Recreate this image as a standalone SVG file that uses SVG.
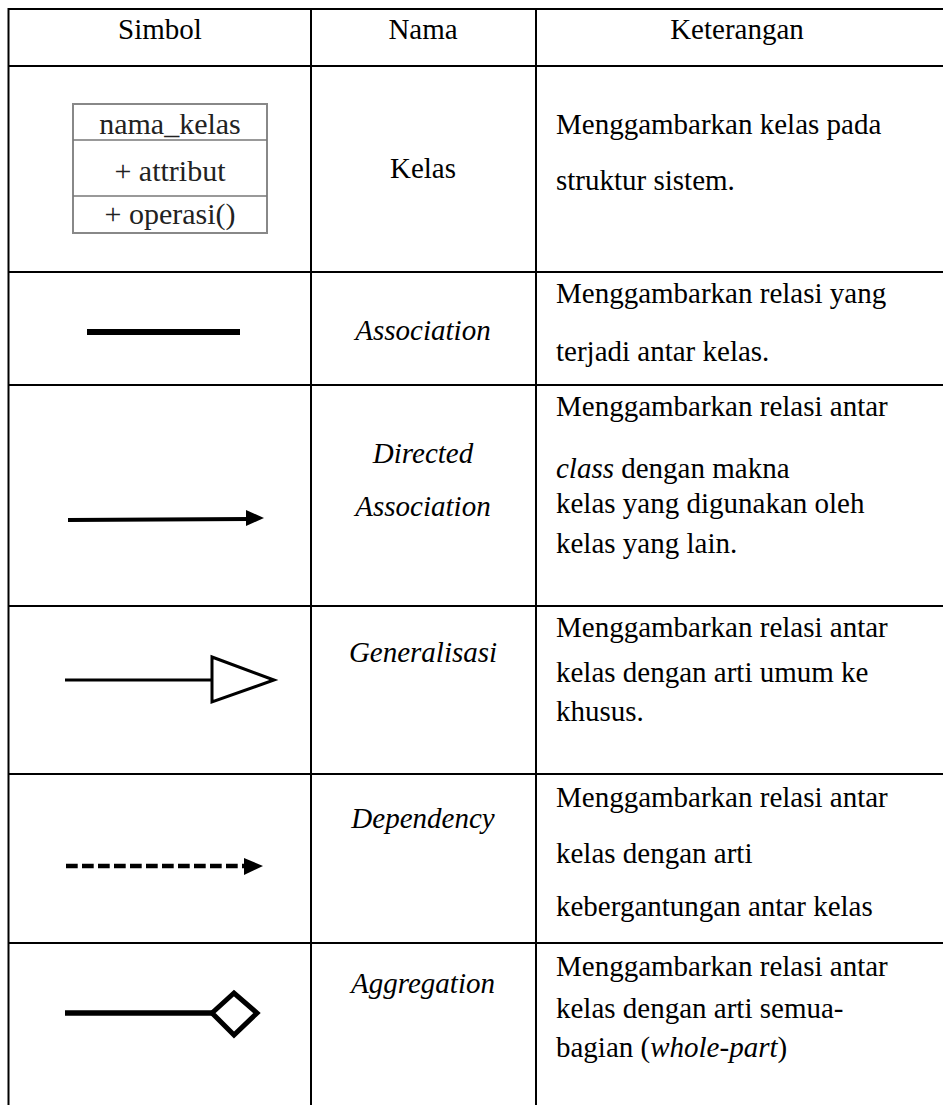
<svg xmlns="http://www.w3.org/2000/svg" width="943" height="1105" viewBox="0 0 943 1105">
<defs>
<style>
.t{font-family:"Liberation Serif","Times New Roman",serif;font-size:29px;fill:#000}
.c{text-anchor:middle}
.i{font-style:italic}
.g{stroke:#000;stroke-width:2;fill:none}
.sym{stroke:#000;fill:none}
.cb{font-family:"Liberation Serif","Times New Roman",serif;font-size:30px;fill:#222;text-anchor:middle}
</style>
</defs>
<rect width="943" height="1105" fill="#fff"/>
<g id="grid">
<line class="g" x1="8" y1="9" x2="943" y2="9"/>
<line class="g" x1="8" y1="66" x2="943" y2="66"/>
<line class="g" x1="8" y1="272" x2="943" y2="272"/>
<line class="g" x1="8" y1="385" x2="943" y2="385"/>
<line class="g" x1="8" y1="606" x2="943" y2="606"/>
<line class="g" x1="8" y1="774" x2="943" y2="774"/>
<line class="g" x1="8" y1="943" x2="943" y2="943"/>
<line class="g" x1="8.5" y1="8" x2="8.5" y2="1105" stroke-width="3"/>
<line class="g" x1="311" y1="8" x2="311" y2="1105" stroke-width="3"/>
<line class="g" x1="536" y1="8" x2="536" y2="1105"/>
</g>
<g id="header">
<text class="t c" x="160" y="39" font-size="30">Simbol</text>
<text class="t c" x="423" y="39" font-size="30">Nama</text>
<text class="t c" x="737" y="39" font-size="30">Keterangan</text>
</g>
<g id="row-kelas">
<rect x="73" y="104" width="194" height="129" fill="#fff" stroke="#888" stroke-width="2"/>
<line x1="73" y1="140" x2="267" y2="140" stroke="#777" stroke-width="1.5"/>
<line x1="73" y1="196" x2="267" y2="196" stroke="#777" stroke-width="1.5"/>
<text class="cb" x="170" y="134">nama_kelas</text>
<text class="cb" x="170" y="181">+ attribut</text>
<text class="cb" x="170" y="224">+ operasi()</text>
<text class="t c" x="423" y="178">Kelas</text>
<text class="t" x="556" y="134">Menggambarkan kelas pada</text>
<text class="t" x="556" y="190">struktur sistem.</text>
</g>
<g id="row-association">
<line class="sym" x1="87" y1="332" x2="240" y2="332" stroke-width="6"/>
<text class="t c i" x="423" y="340">Association</text>
<text class="t" x="556" y="303">Menggambarkan relasi yang</text>
<text class="t" x="556" y="361">terjadi antar kelas.</text>
</g>
<g id="row-directed">
<line class="sym" x1="68" y1="520" x2="250" y2="519" stroke-width="4"/>
<polygon points="246,510 264,518 246,526" fill="#000"/>
<text class="t c i" x="423" y="463">Directed</text>
<text class="t c i" x="423" y="516">Association</text>
<text class="t" x="556" y="416">Menggambarkan relasi antar</text>
<text class="t" x="556" y="478"><tspan font-style="italic">class</tspan> dengan makna</text>
<text class="t" x="556" y="513">kelas yang digunakan oleh</text>
<text class="t" x="556" y="553">kelas yang lain.</text>
</g>
<g id="row-generalisasi">
<line class="sym" x1="65" y1="680" x2="212" y2="680" stroke-width="3"/>
<polygon points="212,657 274,680 212,702" fill="#fff" stroke="#000" stroke-width="3"/>
<text class="t c i" x="423" y="662">Generalisasi</text>
<text class="t" x="556" y="637">Menggambarkan relasi antar</text>
<text class="t" x="556" y="682">kelas dengan arti umum ke</text>
<text class="t" x="556" y="721">khusus.</text>
</g>
<g id="row-dependency">
<line class="sym" x1="66" y1="866" x2="246" y2="866" stroke-width="4.5" stroke-dasharray="11.7 4.3"/>
<polygon points="244,858 263,866 244,875" fill="#000"/>
<text class="t c i" x="423" y="828">Dependency</text>
<text class="t" x="556" y="807">Menggambarkan relasi antar</text>
<text class="t" x="556" y="863">kelas dengan arti</text>
<text class="t" x="556" y="916">kebergantungan antar kelas</text>
</g>
<g id="row-aggregation">
<line class="sym" x1="65" y1="1013" x2="212" y2="1013" stroke-width="5.5"/>
<polygon points="212,1013 234,993 257,1013 234,1035" fill="#fff" stroke="#000" stroke-width="5"/>
<text class="t c i" x="423" y="993">Aggregation</text>
<text class="t" x="556" y="976">Menggambarkan relasi antar</text>
<text class="t" x="556" y="1018">kelas dengan arti semua-</text>
<text class="t" x="556" y="1057">bagian (<tspan font-style="italic">whole-part</tspan>)</text>
</g>
</svg>
